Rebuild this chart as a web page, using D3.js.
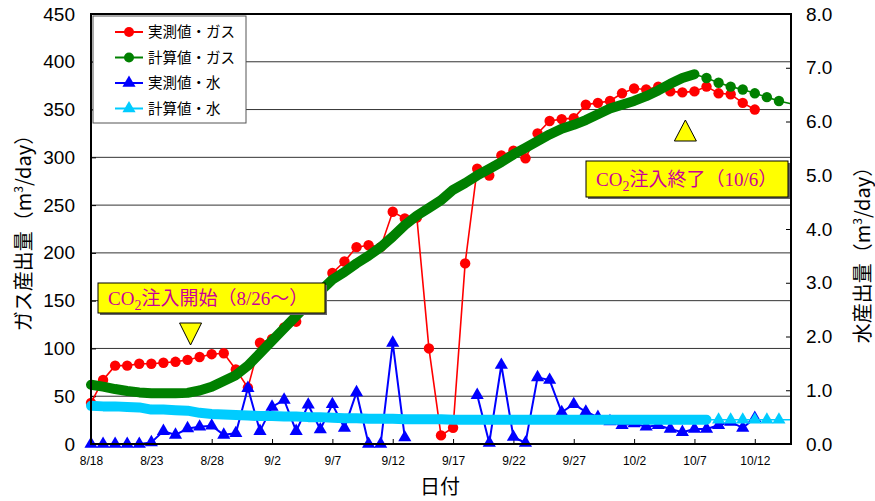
<!DOCTYPE html>
<html>
<head>
<meta charset="utf-8">
<script src="https://cdn.jsdelivr.net/npm/d3@7"></script>
<style>
  body { margin: 0; background: #fff; }
  svg { display: block; }
</style>
</head>
<body>
<svg></svg>
<script>
// values, one per day starting 8/18
var startDate = new Date(2010, 7, 18);
var endDate = new Date(2010, 9, 15);

var gasMeasured = [43, 67, 82, 82, 84, 84, 85, 86, 88, 91, 94, 95, 78, 59, 106, 110, 122, 128, 150, 163,
  179, 191, 206, 208, 206, 243, 236, 237, 100, 9, 17, 189, 288, 281, 302, 307, 299, 325, 338, 340,
  341, 355, 357, 359, 367, 372, 371, 374, 369, 368, 369, 374, 367, 366, 357, 350];

var gasCalc = [62, 60, 57.5, 55.5, 54, 53, 53, 53, 53.5, 56, 60, 66, 72, 82, 95, 108, 121, 134, 147, 160,
  172, 180, 189, 197, 206, 217, 229, 239, 247, 255, 266, 273, 281, 288, 295, 303, 310, 317, 324, 330,
  334, 339, 345, 351, 355, 359, 364, 370, 377, 383, 387, 383, 378, 374, 371, 367, 363, 359, 356];

var waterMeasured = [0, 0, 0, 0, 0, 0.03, 0.24, 0.17, 0.29, 0.32, 0.34, 0.17, 0.2, 1.04, 0.24, 0.69, 0.82, 0.24, 0.73, 0.27,
  0.74, 0.3, 0.96, 0, 0, 1.88, 0.12, null, null, null, null, null, 0.91, 0.02, 1.47, 0.13, 0.02, 1.24, 1.19, 0.59,
  0.74, 0.6, 0.5, 0.42, 0.35, 0.38, 0.32, 0.35, 0.28, 0.22, 0.28, 0.28, 0.35, 0.41, 0.3, 0.48];

var waterCalc = [0.71, 0.7, 0.7, 0.69, 0.68, 0.64, 0.64, 0.63, 0.62, 0.58, 0.56, 0.55, 0.54, 0.53, 0.52, 0.52, 0.51, 0.51, 0.5, 0.5,
  0.49, 0.48, 0.48, 0.47, 0.47, 0.47, 0.46, 0.46, 0.46, 0.46, 0.45, 0.45, 0.45, 0.45, 0.45, 0.45, 0.45, 0.45, 0.45, 0.45,
  0.45, 0.45, 0.45, 0.45, 0.45, 0.45, 0.45, 0.45, 0.45, 0.45, 0.45, 0.45, 0.45, 0.45, 0.45, 0.45, 0.45, 0.45, 0.45];

// the calculated series are hourly (a solid band) up to this day, daily after it
var denseUntil = 50;

var xTickLabels = ["8/18", "8/23", "8/28", "9/2", "9/7", "9/12", "9/17", "9/22", "9/27", "10/2", "10/7", "10/12"];
var gasTicks = [0, 50, 100, 150, 200, 250, 300, 350, 400, 450];
var waterTicks = [0, 1, 2, 3, 4, 5, 6, 7, 8];

var seriesNames = ["実測値・ガス", "計算値・ガス", "実測値・水", "計算値・水"];
var seriesColors = ["#ff0000", "#008000", "#0000ff", "#00ccff"];

var notes = [
  { date: "8/26", text: "注入開始（8/26～）" },
  { date: "10/6", text: "注入終了（10/6）" }
];

var width = 875, height = 501;
var plotL = 91, plotR = 791, plotT = 14, plotB = 444;

var svg = d3.select('svg')
  .attr('width', width)
  .attr('height', height)
  .style('font-family', '"Liberation Sans", Arial, sans-serif');

function dayDate(i) {
  return d3.timeDay.offset(startDate, i);
}
function parseMD(s) {
  var p = s.split('/');
  return new Date(2010, +p[0] - 1, +p[1]);
}

var xScale = d3.scaleTime().domain([startDate, endDate]).range([plotL, plotR]);
var yGas = d3.scaleLinear().domain([0, 450]).range([plotB, plotT]);
var yWater = d3.scaleLinear().domain([0, 8]).range([plotB, plotT]);

// grid lines
svg.append('g')
  .selectAll('line')
  .data(gasTicks.slice(1))
  .enter()
  .append('line')
  .attr('x1', plotL).attr('x2', plotR)
  .attr('y1', d => yGas(d)).attr('y2', d => yGas(d))
  .attr('stroke', '#333')
  .attr('stroke-width', 1);

// axes
var tickDates = xTickLabels.map(parseMD);
var xAxis = d3.axisBottom(xScale)
  .tickValues(tickDates)
  .tickFormat((d, i) => xTickLabels[i])
  .tickSize(-5)
  .tickPadding(12);
var gx = svg.append('g')
  .attr('transform', `translate(0,${plotB})`)
  .call(xAxis);
gx.select('.domain').remove();
gx.selectAll('text').style('font-size', '12px').attr('fill', '#000');

var gl = svg.append('g')
  .attr('transform', `translate(${plotL},0)`)
  .call(d3.axisLeft(yGas).tickValues(gasTicks).tickSize(-5).tickPadding(16));
gl.select('.domain').remove();
gl.selectAll('text').style('font-size', '19px').attr('fill', '#000');

var gr = svg.append('g')
  .attr('transform', `translate(${plotR},0)`)
  .call(d3.axisRight(yWater).tickValues(waterTicks).tickFormat(d3.format('.1f')).tickSize(-5).tickPadding(15));
gr.select('.domain').remove();
gr.selectAll('text').style('font-size', '19px').attr('fill', '#000');

// series
var line = d3.line().defined(d => d.v != null).x(d => d.x).y(d => d.y);
function pts(values, yScale) {
  return values.map((v, i) => ({ x: xScale(dayDate(i)), y: v == null ? null : yScale(v), v: v, i: i }));
}

var tri = d3.symbol().type(d3.symbolTriangle).size(75);

// measured gas
var pGas = pts(gasMeasured, yGas);
svg.append('path').attr('d', line(pGas)).attr('fill', 'none')
  .attr('stroke', seriesColors[0]).attr('stroke-width', 1.6);
svg.append('g').selectAll('circle').data(pGas).enter().append('circle')
  .attr('cx', d => d.x).attr('cy', d => d.y).attr('r', 5.2)
  .attr('fill', seriesColors[0]);

// calculated gas
var pGasC = pts(gasCalc, yGas);
svg.append('path').attr('d', line(pGasC.filter(d => d.i <= denseUntil))).attr('fill', 'none')
  .attr('stroke', seriesColors[1]).attr('stroke-width', 10)
  .attr('stroke-linejoin', 'round').attr('stroke-linecap', 'round');
svg.append('path').attr('d', line(pGasC.filter(d => d.i >= denseUntil))).attr('fill', 'none')
  .attr('stroke', seriesColors[1]).attr('stroke-width', 1.6);
svg.append('g').selectAll('circle').data(pGasC.filter(d => d.i > denseUntil && d.x < plotR - 4)).enter().append('circle')
  .attr('cx', d => d.x).attr('cy', d => d.y).attr('r', 5.2)
  .attr('fill', seriesColors[1]);

// measured water
var pWat = pts(waterMeasured, yWater);
svg.append('path').attr('d', line(pWat)).attr('fill', 'none')
  .attr('stroke', seriesColors[2]).attr('stroke-width', 2);
svg.append('g').selectAll('path').data(pWat.filter(d => d.v != null)).enter().append('path')
  .attr('d', tri)
  .attr('transform', d => `translate(${d.x},${d.y})`)
  .attr('fill', seriesColors[2]);

// calculated water
var pWatC = pts(waterCalc, yWater);
svg.append('path').attr('d', line(pWatC.filter(d => d.i <= denseUntil + 1))).attr('fill', 'none')
  .attr('stroke', seriesColors[3]).attr('stroke-width', 10)
  .attr('stroke-linejoin', 'round').attr('stroke-linecap', 'round');
svg.append('path').attr('d', line(pWatC.filter(d => d.i >= denseUntil + 1))).attr('fill', 'none')
  .attr('stroke', seriesColors[3]).attr('stroke-width', 1.6);
svg.append('g').selectAll('path').data(pWatC.filter(d => d.i > denseUntil + 1 && d.x < plotR - 4)).enter().append('path')
  .attr('d', tri)
  .attr('transform', d => `translate(${d.x},${d.y})`)
  .attr('fill', seriesColors[3]);

// plot frame
svg.append('rect')
  .attr('x', plotL).attr('y', plotT)
  .attr('width', plotR - plotL).attr('height', plotB - plotT)
  .attr('fill', 'none').attr('stroke', '#000').attr('stroke-width', 2);

// legend
var lg = svg.append('g').attr('transform', 'translate(93,16)');
lg.append('rect').attr('width', 153).attr('height', 107)
  .attr('fill', '#fff').attr('stroke', '#555').attr('stroke-width', 1);
seriesNames.forEach(function(name, i) {
  var yy = 16 + i * 25.5;
  lg.append('line').attr('x1', 22).attr('x2', 50).attr('y1', yy).attr('y2', yy)
    .attr('stroke', seriesColors[i]).attr('stroke-width', 2);
  if (i < 2) {
    lg.append('circle').attr('cx', 36).attr('cy', yy).attr('r', 5).attr('fill', seriesColors[i]);
  } else {
    lg.append('path').attr('d', tri).attr('transform', `translate(36,${yy})`).attr('fill', seriesColors[i]);
  }
  lg.append('text').attr('x', 55).attr('y', yy + 5)
    .style('font-family', '"Noto Sans CJK JP", sans-serif')
    .style('font-size', '14.5px')
    .text(name);
});

// event markers and notes
var d1 = xScale(parseMD(notes[0].date)) + 3;
svg.append('path')
  .attr('d', `M${d1 - 11},323 L${d1 + 11},323 L${d1},345 Z`)
  .attr('fill', '#ffff00').attr('stroke', '#000').attr('stroke-width', 1);
var d2 = xScale(parseMD(notes[1].date)) + 3;
svg.append('path')
  .attr('d', `M${d2 - 11},141 L${d2 + 11},141 L${d2},120 Z`)
  .attr('fill', '#ffff00').attr('stroke', '#000').attr('stroke-width', 1);

function noteBox(x, y, w, h, txt) {
  svg.append('rect').attr('x', x + 2).attr('y', y + 2).attr('width', w).attr('height', h).attr('fill', '#666');
  svg.append('rect').attr('x', x).attr('y', y).attr('width', w).attr('height', h)
    .attr('fill', '#ffff00').attr('stroke', '#000').attr('stroke-width', 1);
  var t = svg.append('text').attr('x', x + 10).attr('y', y + h / 2 + 7)
    .attr('fill', '#cc0099')
    .style('font-family', '"Liberation Serif", "Times New Roman", serif')
    .style('font-size', '19px');
  t.append('tspan').text('CO');
  t.append('tspan').attr('dy', 5).style('font-size', '14px').text('2');
  t.append('tspan').attr('dy', -5)
    .style('font-family', '"Liberation Serif", "Noto Sans CJK JP", serif')
    .text(txt);
}
noteBox(98, 283, 227, 30, notes[0].text);
noteBox(586, 161, 202, 36, notes[1].text);

// axis titles
function yTitle(x, y, main) {
  var t = svg.append('text')
    .attr('transform', `translate(${x},${y}) rotate(-90)`)
    .attr('text-anchor', 'middle')
    .style('font-family', '"Noto Sans CJK JP", sans-serif')
    .style('font-size', '20px');
  t.append('tspan').text(main + '（m');
  t.append('tspan').attr('dy', -8).style('font-size', '12px').text('3');
  t.append('tspan').attr('dy', 8).text('/day）');
}
yTitle(31, 228, 'ガス産出量');
yTitle(870, 250, '水産出量');

svg.append('text')
  .attr('x', 440).attr('y', 494)
  .attr('text-anchor', 'middle')
  .style('font-family', '"Noto Sans CJK JP", sans-serif')
  .style('font-size', '20px')
  .text('日付');
</script>
</body>
</html>
